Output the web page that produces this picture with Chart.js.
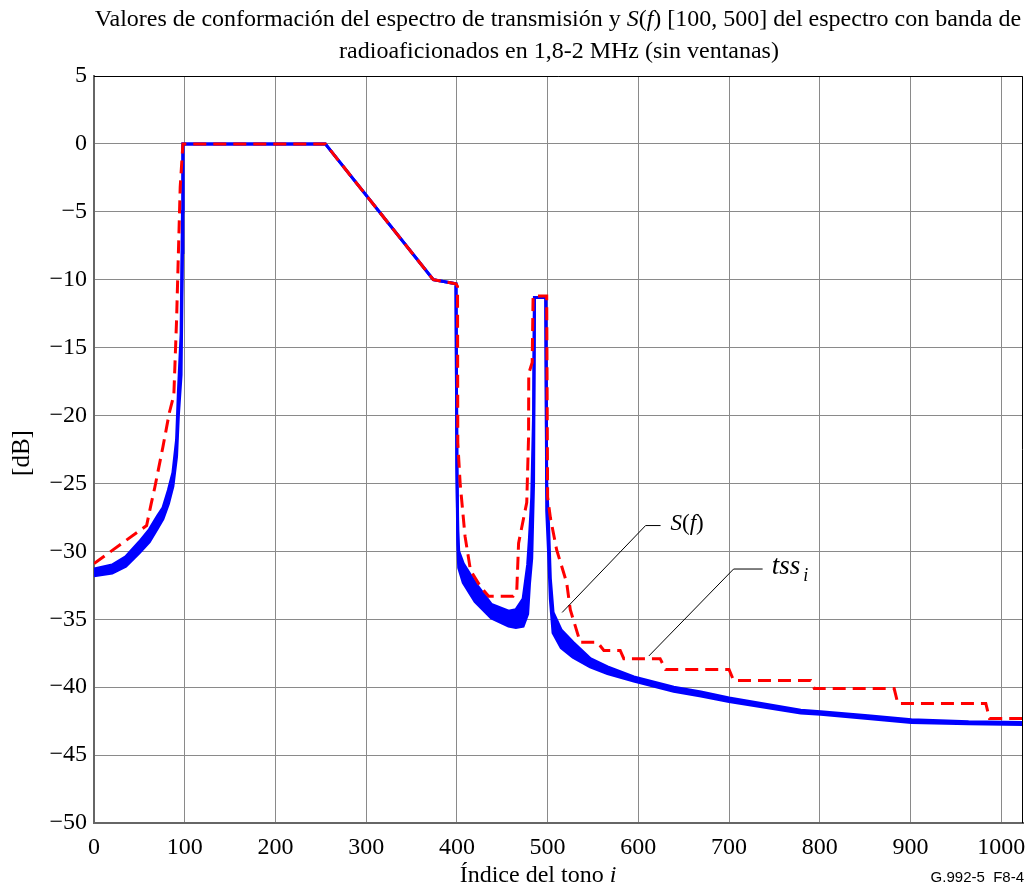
<!DOCTYPE html>
<html>
<head>
<meta charset="utf-8">
<script src="https://cdn.jsdelivr.net/npm/chart.js@4/dist/chart.umd.min.js"></script>
<style>
  body { margin: 0; background: #fff; }
  #wrap { width: 1029px; height: 888px; position: relative; }
</style>
</head>
<body>
<div id="wrap"><canvas id="chart"></canvas></div>
<script>
// tone index i and dB values
// S(f) is drawn as a band (upper / lower edge of the ripple)
const tonesSf = [0, 20, 35, 50, 61, 70, 76, 82, 87, 91, 93, 96, 97.5, 98, 100, 255, 374, 399, 400, 401, 402, 407, 420, 438, 457, 465, 473, 478, 480, 482.5, 484.5, 485.5, 498, 499, 501, 503, 506, 515, 528, 547, 566, 595, 639, 669, 700, 779, 801, 853, 901, 964, 1024];
const sfUpper = [-31.3, -31.0, -30.4, -29.3, -28.4, -27.4, -26.8, -25.5, -24.2, -21.8, -18.3, -14, -5, 0, 0, 0, -10, -10.3, -23.8, -28.5, -30, -30.9, -32.3, -33.9, -34.4, -34.3, -33.5, -31, -29, -26, -20, -11.3, -11.3, -25, -28, -32, -34.5, -35.8, -36.7, -37.9, -38.5, -39.25, -40.0, -40.35, -40.8, -41.7, -41.8, -42.1, -42.4, -42.55, -42.6];
const sfLower = [-31.8, -31.6, -31.1, -30.1, -29.3, -28.3, -27.6, -26.5, -25.2, -23, -20, -17, -8, 0, 0, 0, -10, -10.3, -23.8, -29.5, -31.2, -32.3, -33.7, -34.9, -35.5, -35.6, -35.5, -34.6, -32.4, -30.5, -25, -11.3, -11.3, -27, -30, -33.5, -36, -37.1, -37.8, -38.5, -39, -39.55, -40.3, -40.65, -41.05, -41.9, -42.0, -42.3, -42.6, -42.7, -42.75];

const tonesTss = [0, 58, 63, 67, 76, 83, 88, 91, 95, 98, 255, 374, 399, 400.7, 401, 403.6, 409, 415, 426, 435, 462, 466, 468, 477, 479, 479.2, 483, 484, 499, 500, 503, 510, 521, 525, 536, 555, 562, 580, 584, 624, 630, 700, 705, 790, 794, 882, 886, 983, 987, 1024];
const tssValues = [-30.9, -28.1, -26.5, -25.3, -22.3, -19.8, -18.5, -13, -3.2, 0, 0, -10, -10.3, -10.5, -22, -25, -28.9, -31.4, -32.6, -33.3, -33.3, -32.9, -29.4, -26.4, -21.6, -16.9, -16.1, -11.2, -11.2, -26, -27.5, -29.9, -32.3, -34.3, -36.7, -36.7, -37.3, -37.3, -37.9, -37.9, -38.7, -38.7, -39.5, -39.5, -40.1, -40.1, -41.2, -41.2, -42.3, -42.3];

const xTicks = [0, 100, 200, 300, 400, 500, 600, 700, 800, 900, 1000];

// leader lines for the curve labels, in (tone, dB)
const sfLeader  = [[516, -34.5], [608, -28.1], [624.5, -28.1]];
const tssLeader = [[611.6, -37.7], [705, -31.3], [737, -31.3]];

function pts(xs, ys) {
    return xs.map((x, k) => ({ x: x, y: ys[k] }));
}

const serif = '"Liberation Serif", "Times New Roman", serif';

// draws text pieces, some in italic, one after another; returns width
function richText(ctx, parts, x, y, size, align) {
    let total = 0;
    parts.forEach(p => {
        ctx.font = (p.i ? 'italic ' : '') + size + 'px ' + serif;
        total += ctx.measureText(p.t).width;
    });
    let cx = align === 'center' ? x - total / 2 : x;
    ctx.textBaseline = 'middle';
    ctx.textAlign = 'left';
    parts.forEach(p => {
        ctx.font = (p.i ? 'italic ' : '') + size + 'px ' + serif;
        ctx.fillText(p.t, cx, y);
        cx += ctx.measureText(p.t).width;
    });
    return total;
}

const textPlugin = {
    id: 'texts',
    afterDraw(chart) {
        const ctx = chart.ctx;
        const xs = chart.scales.x, ys = chart.scales.y;
        const a = chart.chartArea;
        ctx.save();
        ctx.fillStyle = '#000';

        // frame top / right
        ctx.strokeStyle = '#000';
        ctx.lineWidth = 1;
        ctx.beginPath();
        ctx.moveTo(a.left, a.top + 0.5);
        ctx.lineTo(a.right - 0.5, a.top + 0.5);
        ctx.lineTo(a.right - 0.5, a.bottom);
        ctx.stroke();

        // title
        richText(ctx, [
            { t: 'Valores de conformación del espectro de transmisión y ' },
            { t: 'S', i: true }, { t: '(' }, { t: 'f', i: true },
            { t: ') [100, 500] del espectro con banda de' }
        ], 558, 20, 24, 'center');
        richText(ctx, [{ t: 'radioaficionados en 1,8-2 MHz (sin ventanas)' }], 559, 52, 24, 'center');

        // axis titles
        richText(ctx, [{ t: 'Índice del tono ' }, { t: 'i', i: true }], 538, 876, 24, 'center');
        ctx.save();
        ctx.translate(22, 453);
        ctx.rotate(-Math.PI / 2);
        richText(ctx, [{ t: '[dB]' }], 0, 0, 25, 'center');
        ctx.restore();

        ctx.font = '15px "Liberation Sans", Arial, sans-serif';
        ctx.textAlign = 'right';
        ctx.textBaseline = 'middle';
        ctx.fillText('G.992-5  F8-4', 1024, 878);

        // leader lines
        ctx.lineWidth = 1;
        [sfLeader, tssLeader].forEach(line => {
            ctx.beginPath();
            line.forEach((p, k) => {
                const px = xs.getPixelForValue(p[0]), py = ys.getPixelForValue(p[1]);
                if (k === 0) ctx.moveTo(px, py); else ctx.lineTo(px, py);
            });
            ctx.stroke();
        });

        const sx = xs.getPixelForValue(sfLeader[2][0]) + 10;
        const sy = ys.getPixelForValue(sfLeader[2][1]) - 2;
        richText(ctx, [{ t: 'S', i: true }, { t: '(' }, { t: 'f', i: true }, { t: ')' }], sx, sy, 23, 'left');

        const tx = xs.getPixelForValue(tssLeader[2][0]) + 9;
        const ty = ys.getPixelForValue(tssLeader[2][1]) - 2;
        const w = richText(ctx, [{ t: 'tss', i: true }], tx, ty, 27, 'left');
        ctx.font = 'italic 18px ' + serif;
        ctx.fillText('i', tx + w + 3, ty + 9);

        ctx.restore();
    }
};

const canvas = document.getElementById('chart');
canvas.width = 1029;
canvas.height = 888;

new Chart(canvas, {
    type: 'line',
    data: {
        datasets: [
            {
                label: 'S(f) upper',
                data: pts(tonesSf, sfUpper),
                borderColor: '#0000ff',
                borderWidth: 3,
                pointRadius: 0,
                fill: false,
                order: 2
            },
            {
                label: 'S(f) lower',
                data: pts(tonesSf, sfLower),
                borderColor: '#0000ff',
                backgroundColor: '#0000ff',
                borderWidth: 3,
                pointRadius: 0,
                fill: '-1',
                order: 1
            },
            {
                label: 'tss',
                data: pts(tonesTss, tssValues),
                borderColor: '#ff0000',
                borderWidth: 3,
                borderDash: [13, 7],
                pointRadius: 0,
                fill: false,
                order: 0
            }
        ]
    },
    options: {
        responsive: false,
        animation: false,
        layout: { padding: { left: 0, top: 76, right: 6, bottom: 0 } },
        plugins: {
            legend: { display: false },
            tooltip: { enabled: false },
            title: { display: false }
        },
        scales: {
            x: {
                type: 'linear',
                min: 0,
                max: 1024,
                afterBuildTicks: s => { s.ticks = xTicks.map(v => ({ value: v })); },
                afterFit: s => { s.height = 65; s.paddingLeft = 0; s.paddingRight = 0; },
                grid: { color: '#8a8a8a', lineWidth: 1, drawTicks: false },
                border: { color: '#666', width: 2 },
                ticks: {
                    padding: 10,
                    color: '#000',
                    font: { family: serif, size: 24 },
                    maxRotation: 0,
                    callback: v => String(v)
                }
            },
            y: {
                min: -50,
                max: 5,
                afterFit: s => { s.width = 94; s.paddingTop = 0; s.paddingBottom = 0; },
                grid: { color: '#8a8a8a', lineWidth: 1, drawTicks: false },
                border: { color: '#666', width: 2 },
                ticks: {
                    stepSize: 5,
                    padding: 7,
                    color: '#000',
                    font: { family: serif, size: 24 },
                    callback: v => String(v).replace('-', '\u2212')
                }
            }
        }
    },
    plugins: [textPlugin]
});
</script>
</body>
</html>
